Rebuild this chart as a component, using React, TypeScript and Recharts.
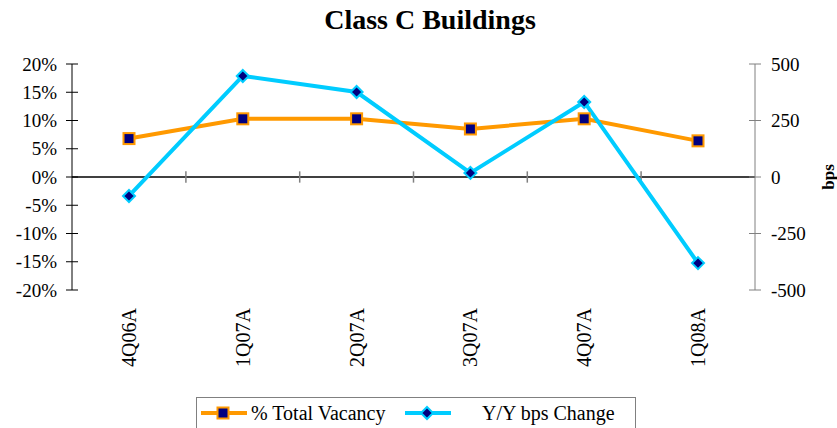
import React from "react";
import {
  ComposedChart,
  Line,
  XAxis,
  YAxis,
  ReferenceLine,
  Legend,
} from "recharts";

const quarters = ["4Q06A", "1Q07A", "2Q07A", "3Q07A", "4Q07A", "1Q08A"];
const totalVacancy = [0.068, 0.103, 0.103, 0.085, 0.103, 0.064];
const bpsChange = [-84, 447, 376, 18, 332, -381];
const pctTicks = [-0.2, -0.15, -0.1, -0.05, 0, 0.05, 0.1, 0.15, 0.2];
const bpsTicks = [-500, -250, 0, 250, 500];
// tick marks on the zero line sit half way between categories
const boundaries = [0.5, 1.5, 2.5, 3.5, 4.5];

const data = quarters.map((q, i) => ({
  q,
  idx: i,
  vacancy: totalVacancy[i],
  bps: bpsChange[i],
}));

const FONT = "'Liberation Serif', 'DejaVu Serif', serif";
const ORANGE = "#FF9900";
const CYAN = "#00CCFF";
const NAVY = "#000080";
const AXIS_GREY = "#808080";
const txt = { fontFamily: FONT, fontSize: 19 };
const CAT_PAD = { left: 57, right: 57 };

const Square = ({ cx, cy, size = 11 }: any) => (
  <rect
    x={cx - size / 2}
    y={cy - size / 2}
    width={size}
    height={size}
    fill={NAVY}
    stroke={ORANGE}
    strokeWidth={2}
  />
);

const Diamond = ({ cx, cy, r = 6 }: any) => (
  <path
    d={`M${cx},${cy - r}L${cx + r},${cy}L${cx},${cy + r}L${cx - r},${cy}Z`}
    fill={NAVY}
    stroke={CYAN}
    strokeWidth={2}
  />
);

const LeftTick = ({ x, y, payload }: any) => {
  // label sits at axis - 15, tick crosses the axis by 6 each side
  const ax = x + 15;
  return (
    <g>
      <line x1={ax - 6} x2={ax + 6} y1={y} y2={y} stroke="#000" />
      <text x={x} y={y} textAnchor="end" dominantBaseline="central" style={txt} fill="#000">
        {`${Math.round(payload.value * 100)}%`}
      </text>
    </g>
  );
};

const RightTick = ({ x, y, payload }: any) => {
  const ax = x - 16;
  return (
    <g>
      <line x1={ax - 6} x2={ax + 6} y1={y} y2={y} stroke={AXIS_GREY} />
      <text x={x} y={y} textAnchor="start" dominantBaseline="central" style={txt} fill="#000">
        {payload.value}
      </text>
    </g>
  );
};

const QuarterTick = ({ x, y, payload }: any) => (
  <text
    x={x}
    y={y}
    transform={`rotate(-90, ${x}, ${y})`}
    textAnchor="end"
    dominantBaseline="central"
    style={{ fontFamily: FONT, fontSize: 20 }}
    fill="#000"
  >
    {payload.value}
  </text>
);

const LegendBox = () => (
  <svg width={440} height={40} style={{ display: "block" }}>
    <rect x={0.5} y={0.5} width={439} height={45} fill="#fff" stroke={AXIS_GREY} />
    <line x1={5} x2={51} y1={16} y2={16} stroke={ORANGE} strokeWidth={4} />
    <Square cx={27} cy={16} size={11} />
    <text x={55} y={23} style={{ fontFamily: FONT, fontSize: 20 }} fill="#000">
      % Total Vacancy
    </text>
    <line x1={209} x2={255} y1={16} y2={16} stroke={CYAN} strokeWidth={4} />
    <Diamond cx={231} cy={16} r={6} />
    <text x={286} y={23} style={{ fontFamily: FONT, fontSize: 20 }} fill="#000">
      Y/Y bps Change
    </text>
  </svg>
);

export default function App() {
  return (
    <div
      style={{
        position: "absolute",
        left: 0,
        top: 0,
        width: 837,
        height: 428,
        background: "#fff",
        overflow: "hidden",
        fontFamily: FONT,
      }}
    >
      <div
        style={{
          position: "absolute",
          top: 4,
          left: 0,
          width: 860,
          textAlign: "center",
          fontWeight: "bold",
          fontSize: 28,
          lineHeight: "32px",
          color: "#000",
        }}
      >
        Class C Buildings
      </div>
      <ComposedChart
        width={837}
        height={428}
        data={data}
        margin={{ top: 64, right: 0, bottom: 0, left: 0 }}
      >
        <XAxis
          dataKey="q"
          xAxisId="cat"
          height={138}
          padding={CAT_PAD}
          axisLine={false}
          tickLine={false}
          tickSize={6}
          tickMargin={12}
          interval={0}
          tick={<QuarterTick />}
        />
        <XAxis
          xAxisId="grid"
          dataKey="idx"
          type="number"
          domain={[0, quarters.length - 1]}
          padding={CAT_PAD}
          hide
        />
        <YAxis
          yAxisId="left"
          orientation="left"
          width={72}
          domain={[-0.2, 0.2]}
          ticks={pctTicks}
          interval={0}
          stroke="#000"
          tickLine={false}
          tickSize={6}
          tickMargin={9}
          tick={<LeftTick />}
        />
        <YAxis
          yAxisId="right"
          orientation="right"
          width={82}
          domain={[-500, 500]}
          ticks={bpsTicks}
          interval={0}
          stroke={AXIS_GREY}
          tickLine={false}
          tickSize={6}
          tickMargin={10}
          tick={<RightTick />}
          label={({ viewBox }: any) => (
            <text
              x={viewBox.x + viewBox.width - 9}
              y={viewBox.y + viewBox.height / 2}
              transform={`rotate(-90, ${viewBox.x + viewBox.width - 9}, ${viewBox.y + viewBox.height / 2})`}
              textAnchor="middle"
              dominantBaseline="central"
              style={{ fontFamily: FONT, fontWeight: "bold", fontSize: 17 }}
              fill="#000"
            >
              bps
            </text>
          )}
        />
        <ReferenceLine yAxisId="left" xAxisId="cat" y={0} stroke="#000" strokeWidth={1.5} />
        {boundaries.map((b) => (
          <ReferenceLine
            key={b}
            xAxisId="grid"
            yAxisId="right"
            segment={[
              { x: b, y: -25 },
              { x: b, y: 25 },
            ]}
            stroke={AXIS_GREY}
            strokeWidth={1.5}
          />
        ))}
        <Line
          xAxisId="cat"
          yAxisId="left"
          type="linear"
          dataKey="vacancy"
          name="% Total Vacancy"
          stroke={ORANGE}
          strokeWidth={4}
          dot={(p: any) => <Square key={`s${p.index}`} cx={p.cx} cy={p.cy} />}
          activeDot={false}
          isAnimationActive={false}
        />
        <Line
          xAxisId="cat"
          yAxisId="right"
          type="linear"
          dataKey="bps"
          name="Y/Y bps Change"
          stroke={CYAN}
          strokeWidth={4}
          dot={(p: any) => <Diamond key={`d${p.index}`} cx={p.cx} cy={p.cy} />}
          activeDot={false}
          isAnimationActive={false}
        />
        <Legend
          layout="horizontal"
          verticalAlign="middle"
          align="center"
          content={<LegendBox />}
          wrapperStyle={{ top: 397, left: 196, width: 440, height: 40 }}
        />
      </ComposedChart>
    </div>
  );
}
